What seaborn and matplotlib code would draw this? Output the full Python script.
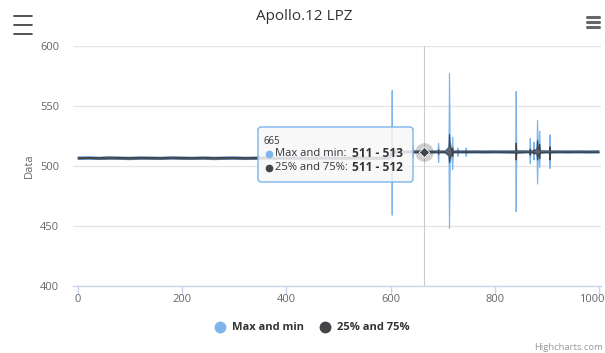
import matplotlib
matplotlib.use("Agg")
import matplotlib.pyplot as plt
from matplotlib.lines import Line2D
from matplotlib.patches import FancyBboxPatch
from matplotlib.transforms import IdentityTransform, ScaledTranslation
import seaborn as sns

# sample positions (flat stretches sampled sparsely, spikes with neighbours)
x_vals = [0, 20, 40, 60, 80, 100, 120, 140, 160, 180,
          200, 220, 240, 260, 280, 300, 320, 340, 360, 380,
          400, 420, 440, 460, 480, 500, 520, 540, 560, 580, 598,
          602, 603, 604, 620, 642, 643, 644, 660, 665, 680,
          691, 692, 693, 705, 712, 713, 714, 718, 719, 720,
          728, 729, 730, 744, 745, 746, 760, 780, 800, 820,
          840, 841, 842, 860, 867, 868, 869, 874, 875, 876,
          881, 882, 883, 885, 886, 887, 900, 905, 906, 907,
          920, 940, 960, 980, 1000]

# "Max and min"
mm_low = [505.5, 505.6, 505.4, 505.6, 505.5, 505.3, 505.6, 505.5, 505.4, 505.7,
          505.5, 505.4, 505.6, 505.3, 505.5, 505.6, 505.4, 505.5, 505.7, 505.4,
          505.5, 505.6, 505.3, 505.5, 505.6, 505.4, 505.5, 505.7, 505.4, 505.5, 505.6,
          510.6, 459.0, 510.7, 510.8, 510.7, 507.0, 510.8, 510.8, 511.0, 510.7,
          510.8, 503.0, 510.8, 510.7, 508.0, 448.0, 502.0, 510.6, 497.0, 510.7,
          510.8, 508.0, 510.8, 510.7, 508.0, 510.7, 510.8, 510.7, 510.8, 510.7,
          510.6, 462.0, 510.5, 510.8, 510.6, 502.0, 510.6, 510.7, 505.0, 510.6,
          509.0, 485.0, 508.0, 509.0, 499.0, 510.5, 510.8, 510.5, 498.0, 510.6,
          510.8, 510.7, 510.8, 510.7, 510.8]
mm_high = [507.5, 507.7, 507.4, 507.8, 507.6, 507.4, 507.7, 507.6, 507.4, 507.8,
           507.6, 507.4, 507.7, 507.4, 507.6, 507.7, 507.4, 507.6, 507.8, 507.4,
           507.6, 507.7, 507.4, 507.6, 507.7, 507.4, 507.6, 507.8, 507.4, 507.6, 507.7,
           512.6, 563.0, 512.7, 512.8, 512.7, 517.0, 512.8, 512.8, 513.0, 512.7,
           512.8, 519.0, 512.8, 512.7, 516.0, 577.0, 520.0, 512.6, 524.0, 512.7,
           512.8, 515.0, 512.8, 512.7, 515.0, 512.7, 512.8, 512.7, 512.8, 512.7,
           512.8, 562.0, 512.9, 512.8, 512.7, 523.0, 512.8, 512.7, 520.0, 512.8,
           515.0, 538.0, 516.0, 515.0, 529.0, 512.9, 512.8, 512.9, 526.0, 512.8,
           512.8, 512.7, 512.8, 512.7, 512.8]

# "25% and 75%"
iq_low = [506.0, 506.2, 505.9, 506.1, 506.0, 505.8, 506.1, 506.0, 505.9, 506.2,
          506.0, 505.9, 506.1, 505.8, 506.0, 506.1, 505.9, 506.0, 506.2, 505.9,
          506.0, 506.1, 505.8, 506.0, 506.1, 505.9, 506.0, 506.2, 505.9, 506.0, 506.1,
          511.1, 508.0, 511.2, 511.3, 511.2, 510.5, 511.3, 511.3, 511.0, 511.2,
          511.3, 510.0, 511.3, 511.2, 509.0, 503.0, 507.0, 511.0, 508.0, 511.2,
          511.3, 510.8, 511.3, 511.2, 510.8, 511.2, 511.3, 511.2, 511.3, 511.2,
          511.1, 505.0, 511.0, 511.3, 511.2, 509.0, 511.2, 511.2, 510.0, 511.1,
          510.0, 505.0, 509.5, 510.0, 506.0, 511.0, 511.3, 511.1, 505.0, 511.2,
          511.3, 511.2, 511.3, 511.2, 511.3]
iq_high = [507.1, 507.2, 507.0, 507.3, 507.1, 507.0, 507.2, 507.1, 507.0, 507.3,
           507.1, 507.0, 507.2, 507.0, 507.1, 507.2, 507.0, 507.1, 507.3, 507.0,
           507.1, 507.2, 507.0, 507.1, 507.2, 507.0, 507.1, 507.3, 507.0, 507.1, 507.2,
           512.1, 515.0, 512.2, 512.3, 512.2, 513.0, 512.3, 512.3, 512.0, 512.2,
           512.3, 513.5, 512.3, 512.2, 515.0, 526.0, 517.0, 512.2, 515.0, 512.2,
           512.3, 512.8, 512.3, 512.2, 512.8, 512.2, 512.3, 512.2, 512.3, 512.2,
           512.3, 519.0, 512.4, 512.3, 512.2, 514.0, 512.3, 512.3, 513.5, 512.3,
           514.0, 521.0, 514.5, 513.5, 518.0, 512.5, 512.3, 512.4, 516.0, 512.3,
           512.3, 512.2, 512.3, 512.2, 512.3]

series_names = ["Max and min", "25% and 75%"]
series_colors = ["#7cb5ec", "#434348"]
x_ticks = [0, 200, 400, 600, 800, 1000]
y_ticks = [400, 450, 500, 550, 600]
hover_x = 665

W, H = 605, 353


def P(px, py):
    return px / W, 1 - py / H


sns.set_theme(style="white")
plt.rcParams["font.family"] = ["Open Sans", "DejaVu Sans"]

fig = plt.figure(figsize=(W / 100, H / 100), dpi=100)
ax = fig.add_axes([73 / W, (H - 286) / H, 528 / W, 240 / H])

for (lo, hi), col, z in [((mm_low, mm_high), series_colors[0], 3),
                         ((iq_low, iq_high), series_colors[1], 4)]:
    ax.fill_between(x_vals, lo, hi, color=col, alpha=0.75, lw=0, zorder=z)
    sns.lineplot(x=x_vals, y=lo, ax=ax, color=col, lw=0.8, estimator=None,
                 sort=False, zorder=z)
    sns.lineplot(x=x_vals, y=hi, ax=ax, color=col, lw=0.8, estimator=None,
                 sort=False, zorder=z)

ax.set_xlim(-9.6, 1003.8)
ax.set_ylim(400, 600)
ax.set_xticks(x_ticks)
ax.set_xticklabels([str(t) for t in x_ticks])
ax.set_yticks(y_ticks)
ax.grid(axis="y", color="#e6e6e6", lw=1)
ax.set_axisbelow(True)
for s in ["top", "right", "left"]:
    ax.spines[s].set_visible(False)
ax.spines["bottom"].set_color("#ccd6eb")
ax.spines["bottom"].set_linewidth(1)
ax.tick_params(axis="x", colors="#666666", labelsize=8, length=6,
               width=1, color="#ccd6eb", pad=0, direction="out", bottom=True)
ax.tick_params(axis="y", colors="#666666", labelsize=8, length=0, pad=10)
ax.set_ylabel("Data", color="#666666", fontsize=8, labelpad=4)
ax.set_xlabel("")

# keep the last x label inside the figure, as Highcharts does
last = ax.get_xticklabels()[-1]
last.set_horizontalalignment("right")
last.set_transform(last.get_transform() + ScaledTranslation(4 / 72, 0, fig.dpi_scale_trans))

# crosshair and hover markers
ax.axvline(hover_x, color="#cccccc", lw=0.8, zorder=2)
i = x_vals.index(hover_x)
mid = (iq_low[i] + iq_high[i]) / 2
ax.scatter([hover_x], [mid], s=180, color=series_colors[1], alpha=0.25,
           lw=0, zorder=6)
ax.scatter([hover_x], [mid], s=28, marker="D", color=series_colors[1],
           edgecolor="white", lw=0.6, zorder=7)

# tooltip
box = FancyBboxPatch((258, H - 182), 155, 55,
                     boxstyle="round,pad=0,rounding_size=3",
                     transform=IdentityTransform(), facecolor=(0.97, 0.97, 0.97, 0.85),
                     edgecolor=series_colors[0], lw=1, zorder=10)
fig.add_artist(box)
fig.text(*P(264, 141.5), str(hover_x), fontsize=7, color="#333333",
         va="center", ha="left", zorder=11)
rows = [(series_names[0], mm_low[i], mm_high[i], series_colors[0], 154),
        (series_names[1], iq_low[i], iq_high[i], series_colors[1], 167.5)]
for name, lo, hi, col, py in rows:
    fig.add_artist(Line2D([P(269, py)[0]], [P(269, py)[1]], marker="o",
                          markersize=4.5, color=col, lw=0,
                          transform=fig.transFigure, zorder=11))
    fig.text(*P(275, py), f"{name}:", fontsize=8.1, color="#333333",
             va="center", ha="left", zorder=11)
    fig.text(*P(352, py), f"{lo:.0f} - {hi:.0f}", fontsize=8.6, color="#333333",
             fontweight="bold", va="center", ha="left", zorder=11)

# title
fig.text(*P(304, 17), "Apollo.12 LPZ", fontsize=11, color="#333333",
         ha="center", va="center")

# legend
for name, col, px in [(series_names[0], series_colors[0], 220),
                      (series_names[1], series_colors[1], 325)]:
    fig.add_artist(Line2D([P(px, 327)[0]], [P(px, 327)[1]], marker="o",
                          markersize=7.5, color=col, lw=0,
                          transform=fig.transFigure))
    fig.text(*P(px + 12, 327), name, fontsize=8, fontweight="bold",
             color="#333333", ha="left", va="center")

fig.text(*P(603, 347), "Highcharts.com", fontsize=6.8, color="#999999",
         ha="right", va="center")

# menu icons
for py in [16, 25, 34]:
    fig.add_artist(Line2D([P(14, py)[0], P(32, py)[0]], [P(14, py)[1]] * 2,
                          color="#333333", lw=1.2, transform=fig.transFigure))
for py in [16.5, 21.5, 26.5]:
    fig.add_artist(Line2D([P(587, py)[0], P(599, py)[0]], [P(587, py)[1]] * 2,
                          color="#666666", lw=2.2, transform=fig.transFigure))

fig.savefig("out.png", dpi=100)
